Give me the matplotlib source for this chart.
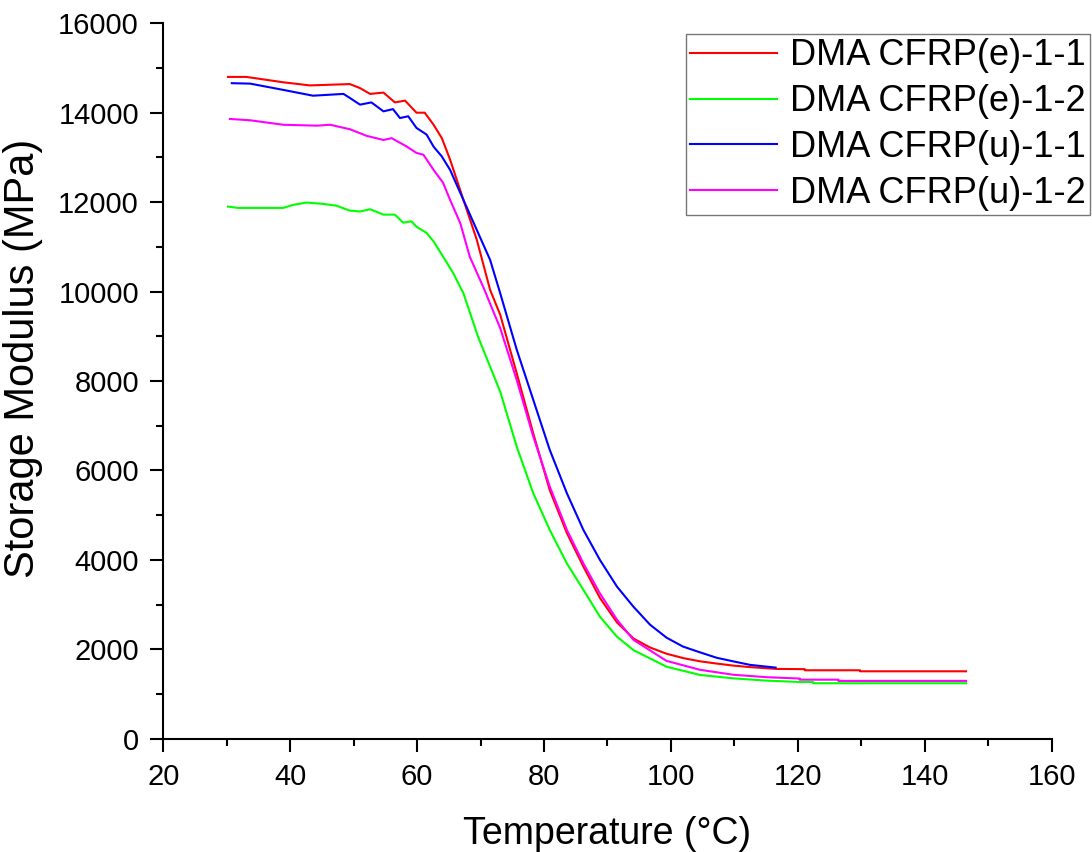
import matplotlib
matplotlib.use("Agg")
import matplotlib.pyplot as plt
from matplotlib.ticker import MultipleLocator

plt.rcParams["font.family"] = ["Liberation Sans", "DejaVu Sans"]

# ----------------------------------------------------------------------
# Storage modulus (MPa) vs temperature (°C)
# ----------------------------------------------------------------------

labels = ["DMA CFRP(e)-1-1", "DMA CFRP(e)-1-2", "DMA CFRP(u)-1-1", "DMA CFRP(u)-1-2"]
colors = ["#FF0000", "#00FF00", "#0000FF", "#FF00FF"]

temp_e11 = [30.2, 33.1, 38.9, 43.1, 49.4, 51.0, 52.6, 54.7, 56.5, 58.1, 59.9, 61.2,
            62.6, 63.9, 65.2, 67.3, 69.4, 71.5, 73.1, 75.7, 78.3, 80.9, 83.6, 86.2,
            88.8, 91.5, 94.1, 96.7, 99.3, 102.0, 104.6, 107.2, 109.8, 112.5, 116.7,
            121.1, 121.1, 129.8, 129.8, 146.5]
mod_e11 = [14800, 14800, 14680, 14610, 14640, 14550, 14420, 14450, 14230, 14270, 14000, 14000,
           13730, 13430, 12950, 12050, 11160, 10040, 9480, 8170, 6830, 5560, 4600, 3850,
           3150, 2600, 2240, 2040, 1900, 1800, 1730, 1680, 1635, 1600, 1560,
           1555, 1530, 1530, 1507, 1507]

temp_e12 = [30.2, 31.8, 38.9, 40.5, 42.6, 45.2, 47.3, 49.4, 51.0, 52.6, 54.7, 56.5,
            57.8, 59.1, 59.9, 61.5, 62.6, 64.1, 65.7, 67.3, 69.6, 73.1, 75.7, 78.3,
            80.9, 83.6, 86.2, 88.8, 91.5, 94.1, 99.3, 104.6, 109.8, 115.1, 120.3,
            122.4, 122.4, 146.5]
mod_e12 = [11900, 11870, 11870, 11940, 11990, 11960, 11920, 11810, 11790, 11840, 11720, 11720,
           11540, 11570, 11450, 11310, 11120, 10780, 10410, 9960, 8990, 7760, 6530, 5490,
           4670, 3920, 3330, 2730, 2280, 1980, 1610, 1425, 1350, 1298, 1268,
           1268, 1240, 1240]

temp_u11 = [30.8, 33.7, 38.9, 43.6, 48.4, 49.4, 51.0, 52.8, 54.7, 56.2, 57.3, 58.6,
            59.9, 61.5, 62.6, 63.9, 65.2, 67.3, 69.4, 71.5, 73.1, 75.7, 78.3, 80.9,
            83.6, 86.2, 88.8, 91.5, 94.1, 96.7, 99.3, 101.9, 104.6, 107.2, 109.8,
            112.5, 116.5]
mod_u11 = [14660, 14650, 14510, 14380, 14420, 14330, 14180, 14230, 14030, 14080, 13880, 13920,
           13660, 13510, 13240, 13020, 12720, 12050, 11380, 10710, 9960, 8700, 7580, 6460,
           5490, 4670, 4000, 3400, 2950, 2550, 2260, 2060, 1930, 1810, 1730,
           1650, 1590]

temp_u12 = [30.5, 33.7, 38.9, 44.2, 46.3, 49.4, 52.1, 54.7, 56.0, 58.4, 59.9, 61.0,
            62.6, 64.1, 65.2, 66.8, 68.3, 70.4, 73.1, 75.7, 78.3, 80.9, 83.6, 86.2,
            88.8, 91.5, 94.1, 99.3, 104.6, 109.8, 115.1, 120.3, 120.3, 126.4, 126.4,
            146.5]
mod_u12 = [13860, 13830, 13730, 13710, 13730, 13630, 13480, 13390, 13430, 13240, 13100, 13060,
           12720, 12430, 12050, 11530, 10780, 10110, 9180, 8020, 6760, 5640, 4670, 3920,
           3250, 2660, 2210, 1740, 1540, 1430, 1375, 1345, 1320, 1320, 1292,
           1292]

series = [(temp_e11, mod_e11), (temp_e12, mod_e12), (temp_u11, mod_u11), (temp_u12, mod_u12)]

# ----------------------------------------------------------------------

fig = plt.figure(figsize=(10.92, 8.52), dpi=100)
ax = fig.add_axes([0.1495, 0.1330, 0.8136, 0.8397])

for (t, m), lab, c in zip(series, labels, colors):
    ax.plot(t, m, color=c, linewidth=1.5, label=lab)

ax.set_xlim(20, 160)
ax.set_ylim(0, 16000)
ax.xaxis.set_major_locator(MultipleLocator(20))
ax.xaxis.set_minor_locator(MultipleLocator(10))
ax.yaxis.set_major_locator(MultipleLocator(2000))
ax.yaxis.set_minor_locator(MultipleLocator(1000))

# open axes: only left and bottom spines
for side in ["top", "right"]:
    ax.spines[side].set_visible(False)
for side in ["left", "bottom"]:
    ax.spines[side].set_linewidth(1.5)

ax.tick_params(which="major", direction="out", length=9.5, width=1.5,
               labelsize=21, pad=8)
ax.tick_params(which="minor", direction="out", length=4.8, width=1.5)

ax.set_xlabel("Temperature (°C)", fontsize=27)
ax.set_ylabel("Storage Modulus (MPa)", fontsize=30)
ax.xaxis.set_label_coords(0.5, -0.108)
ax.yaxis.set_label_coords(-0.135, 0.531)

# legend pinned to the top-right corner of the figure
leg = ax.legend(loc="upper right", bbox_to_anchor=(1090 / 1092, 1 - 34 / 852),
                bbox_transform=fig.transFigure, borderaxespad=0,
                fontsize=26, frameon=True, fancybox=False,
                handlelength=2.4, handletextpad=0.35, labelspacing=0.3,
                borderpad=0.12)
leg.get_frame().set_edgecolor("#555555")
leg.get_frame().set_linewidth(1.0)

fig.savefig("out.png", dpi=100)
plt.close(fig)
